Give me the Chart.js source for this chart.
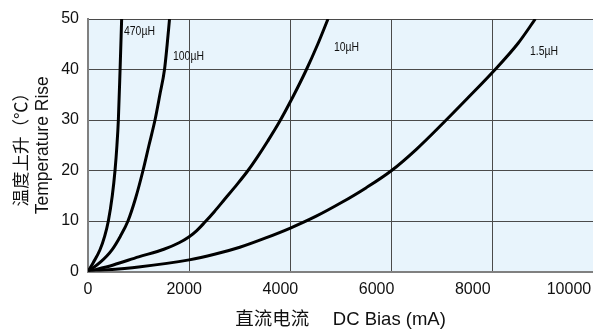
<!DOCTYPE html>
<html lang="zh">
<head>
    <meta charset="UTF-8">
    <title>DC Bias vs Temperature Rise</title>
    <script src="https://cdn.jsdelivr.net/npm/chart.js"></script>
    <style>
        html, body {
            margin: 0;
            padding: 0;
            background: #fff;
            overflow: hidden;
        }
    </style>
</head>
<body>
    <canvas id="riseChart" width="593" height="329"></canvas>
    <script>
        // Curve names and where their labels sit (in data units: mA, degC)
        const inductances = ['470\u00b5H', '100\u00b5H', '10\u00b5H', '1.5\u00b5H'];
        const labelAtMA = [711, 1680, 4860, 8735];
        const labelAtRise = [47.4, 42.5, 44.3, 43.5];

        // Values: DC bias (mA) -> temperature rise (degC)
        const bias470 = [0, 100, 237, 330, 402, 480, 534, 572, 600, 634, 665];
        const rise470 = [0, 1.7, 4.3, 7, 10, 15, 20, 25, 30, 40, 50];

        const bias100 = [0, 250, 474, 640, 790, 940, 1087, 1205, 1324, 1420, 1512, 1565, 1611];
        const rise100 = [0, 1.9, 4.3, 7, 10, 14.5, 20, 25, 30, 35, 40, 45, 50];

        const bias10 = [0, 500, 1000, 1500, 1800, 2000, 2150, 2312, 2500, 2700, 2950, 3162, 3350, 3550, 3775, 4050, 4308, 4540, 4743];
        const rise10 = [0, 1.3, 2.9, 4.4, 5.7, 6.9, 8.1, 9.8, 11.9, 14.3, 17.3, 20, 22.7, 25.8, 29.5, 34.6, 39.8, 45, 50];

        const bias1p5 = [0, 1000, 2000, 2500, 3000, 3500, 4000, 4500, 5000, 5500, 6000, 6500, 7000, 7500, 8000, 8500, 8840];
        const rise1p5 = [0, 0.9, 2.3, 3.4, 4.8, 6.6, 8.6, 10.9, 13.6, 16.6, 20, 24.3, 29.2, 34.3, 39.5, 45.2, 50];

        const xTicks = [0, 2000, 4000, 6000, 8000, 10000];
        const yTicks = [0, 10, 20, 30, 40, 50];

        function toPoints(xs, ys) {
            return xs.map((v, i) => ({ x: v, y: ys[i] }));
        }

        Chart.defaults.font.family = "'Liberation Sans', Arial, 'Noto Sans CJK SC', sans-serif";
        Chart.defaults.color = '#111';

        // light blue plot background
        const plotBackground = {
            id: 'plotBackground',
            beforeDraw(chart) {
                const { ctx, chartArea } = chart;
                ctx.save();
                ctx.fillStyle = '#e8f4fc';
                ctx.fillRect(chartArea.left, chartArea.top, chartArea.right - chartArea.left, chartArea.bottom - chartArea.top);
                ctx.restore();
            }
        };

        // inductance names next to the curves (narrow lettering like the original)
        const curveLabels = {
            id: 'curveLabels',
            afterDatasetsDraw(chart) {
                const { ctx } = chart;
                const x = chart.scales.x, y = chart.scales.y;
                ctx.save();
                ctx.font = "12px 'Liberation Sans', Arial, sans-serif";
                ctx.fillStyle = '#111';
                ctx.textBaseline = 'middle';
                inductances.forEach((name, i) => {
                    const px = x.getPixelForValue(labelAtMA[i]);
                    const py = y.getPixelForValue(labelAtRise[i]);
                    ctx.setTransform(0.87, 0, 0, 1, px, py);
                    ctx.fillText(name, 0, 0);
                });
                ctx.restore();
            }
        };

        const series = [
            toPoints(bias470, rise470),
            toPoints(bias100, rise100),
            toPoints(bias10, rise10),
            toPoints(bias1p5, rise1p5)
        ];

        new Chart(document.getElementById('riseChart'), {
            type: 'line',
            data: {
                datasets: series.map((pts, i) => ({
                    label: inductances[i],
                    data: pts,
                    xAxisID: 'x',
                    yAxisID: 'y'
                }))
            },
            options: {
                responsive: false,
                animation: false,
                layout: { padding: { top: 19, right: 0, bottom: 0, left: 0 } },
                plugins: {
                    legend: { display: false },
                    tooltip: { enabled: false }
                },
                elements: {
                    point: { radius: 0 },
                    line: { borderWidth: 3, borderColor: '#000', cubicInterpolationMode: 'monotone' }
                },
                scales: {
                    x: {
                        type: 'linear',
                        position: 'bottom',
                        min: 0,
                        max: 9980,
                        ticks: { display: false, stepSize: 2000 },
                        grid: { color: '#4a4a4a', lineWidth: 1, drawTicks: false },
                        border: { color: '#808080', width: 2 },
                        afterFit(scale) {
                            scale.height = 0;
                            scale.paddingLeft = 0;
                            scale.paddingRight = 0;
                        }
                    },
                    xLabels: {
                        type: 'linear',
                        position: 'bottom',
                        min: 0,
                        max: 10500,
                        grid: { display: false, drawTicks: false },
                        border: { display: false },
                        afterBuildTicks(scale) { scale.ticks = xTicks.map(v => ({ value: v })); },
                        ticks: {
                            padding: 8,
                            font: { size: 16 },
                            callback: v => String(v)
                        },
                        title: {
                            display: true,
                            text: '直流电流\u3000 DC Bias (mA)',
                            font: { size: 18.5, lineHeight: 1 },
                            padding: { top: 0, bottom: 0 }
                        },
                        afterFit(scale) {
                            scale.height = 57.5;
                            scale.paddingLeft = 0;
                            scale.paddingRight = 0;
                        }
                    },
                    y: {
                        type: 'linear',
                        min: 0,
                        max: 50,
                        afterBuildTicks(scale) { scale.ticks = yTicks.map(v => ({ value: v })); },
                        ticks: {
                            padding: 9,
                            font: { size: 16 },
                            callback: v => String(v)
                        },
                        grid: { color: '#4a4a4a', lineWidth: 1, drawTicks: false },
                        border: { color: '#808080', width: 2 },
                        title: {
                            display: true,
                            text: ['温度上升（℃）', 'Temperature Rise'],
                            font: { size: 17.5, lineHeight: 1.2 },
                            padding: { top: 12, bottom: 0 }
                        },
                        afterFit(scale) {
                            scale.width = 88;
                            scale.paddingTop = 0;
                            scale.paddingBottom = 0;
                        }
                    }
                }
            },
            plugins: [plotBackground, curveLabels]
        });
    </script>
</body>
</html>
